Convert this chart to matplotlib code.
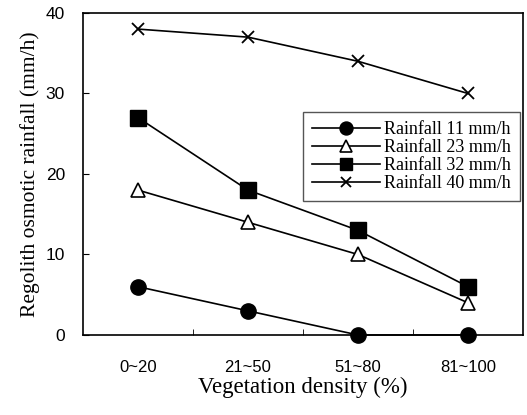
import numpy as np
import matplotlib
matplotlib.use("Agg")
import matplotlib.pyplot as plt

categories = ["0~20", "21~50", "51~80", "81~100"]
rain11 = [6, 3, 0, 0]
rain23 = [18, 14, 10, 4]
rain32 = [27, 18, 13, 6]
rain40 = [38, 37, 34, 30]

fig = plt.figure(figsize=(5.27, 4.15), dpi=100)
ax = fig.add_axes([0.1575, 0.1928, 0.8349, 0.7759])

x = np.arange(len(categories))
ax.plot(x, rain11, color="black", lw=1.2, marker="o", ms=11, mfc="black",
        label="Rainfall 11 mm/h", clip_on=False, zorder=3)
ax.plot(x, rain23, color="black", lw=1.2, marker="^", ms=10.5, mfc="white",
        mew=1.2, label="Rainfall 23 mm/h", clip_on=False, zorder=3)
ax.plot(x, rain32, color="black", lw=1.2, marker="s", ms=11, mfc="black",
        label="Rainfall 32 mm/h", clip_on=False, zorder=3)
ax.plot(x, rain40, color="black", lw=1.2, marker="x", ms=8, mew=1.3,
        label="Rainfall 40 mm/h", clip_on=False, zorder=3)

ax.set_xlim(-0.5, 3.5)
ax.set_ylim(0, 40)
ax.set_yticks([0, 10, 20, 30, 40])
ax.set_yticklabels(["0", "10", "20", "30", "40"], family="Liberation Sans", fontsize=12.5)
ax.set_xticks(x)
ax.set_xticklabels(categories, family="Liberation Sans", fontsize=12)
ax.tick_params(axis="x", length=0, pad=18)
ax.set_xticks([0.5, 1.5, 2.5], minor=True)
ax.tick_params(axis="x", which="minor", direction="in", length=4)
ax.tick_params(axis="y", direction="in", length=4, pad=13)
for s in ax.spines.values():
    s.set_linewidth(1.2)

ax.set_xlabel("Vegetation density (%)", family="Liberation Serif", fontsize=16.5, labelpad=1)
ax.set_ylabel("Regolith osmotic rainfall (mm/h)", family="Liberation Serif", fontsize=15.5, labelpad=4)

leg = ax.legend(loc="upper right", bbox_to_anchor=(0.993, 0.693), borderaxespad=0,
                prop={"family": "Liberation Serif", "size": 13},
                fancybox=False, edgecolor="#555555", framealpha=1, handlelength=3.8,
                handletextpad=0.2, labelspacing=0.06, borderpad=0.5, markerscale=0.85)
leg.get_frame().set_linewidth(1.0)

fig.savefig("out.png", dpi=100)
